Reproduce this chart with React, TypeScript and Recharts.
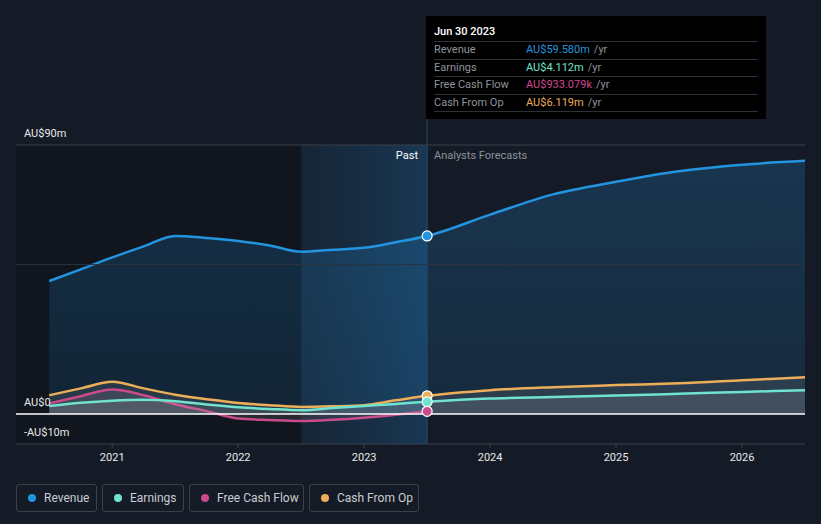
import {
  ComposedChart, Area, XAxis, YAxis, ReferenceLine, ReferenceArea, ReferenceDot,
} from "recharts";

const years = [
  2020.5, 2020.75, 2021.0, 2021.25, 2021.5, 2021.75, 2022.0, 2022.25, 2022.5,
  2022.75, 2023.0, 2023.25, 2023.5, 2024.0, 2024.5, 2025.0, 2025.5, 2026.0, 2026.5,
];
const revenue = [
  44.5, 48.4, 52.4, 56.1, 59.6, 58.9, 57.9, 56.4, 54.3,
  55.0, 55.6, 57.5, 59.58, 66.7, 73.5, 77.7, 81.2, 83.4, 84.7,
];
const earnings = [
  2.7, 3.8, 4.5, 4.8, 4.3, 3.2, 2.3, 1.7, 1.3,
  2.0, 2.7, 3.4, 4.112, 5.2, 5.7, 6.2, 6.8, 7.4, 8.0,
];
const freeCashFlow = [
  3.6, 6.0, 8.2, 6.3, 3.3, 1.0, -1.5, -2.0, -2.3,
  -1.9, -1.2, -0.2, 0.933, null, null, null, null, null, null,
];
const cashFromOp = [
  6.3, 8.6, 10.8, 8.6, 6.5, 5.0, 3.7, 3.0, 2.4,
  2.6, 3.0, 4.6, 6.119, 8.0, 9.0, 9.7, 10.3, 11.3, 12.3,
];
const xTicks = [2021, 2022, 2023, 2024, 2025, 2026];
const yLabelTicks = [-10, 0, 90];

const pastEnd = 2023.5;
const tooltipRows = [
  { name: "Revenue", value: "AU$59.580m", color: "#2394DF" },
  { name: "Earnings", value: "AU$4.112m", color: "#6FE3CF" },
  { name: "Free Cash Flow", value: "AU$933.079k", color: "#D04A8E" },
  { name: "Cash From Op", value: "AU$6.119m", color: "#EDAE5A" },
];

const series = [
  { key: "revenue", name: "Revenue", color: "#2394DF", width: 81 },
  { key: "earnings", name: "Earnings", color: "#6FE3CF", width: 82 },
  { key: "fcf", name: "Free Cash Flow", color: "#C94B8C", width: 115 },
  { key: "cfo", name: "Cash From Op", color: "#EDAE5A", width: 110 },
];

const data = years.map((t, i) => ({
  t,
  revenue: revenue[i],
  earnings: earnings[i],
  fcf: freeCashFlow[i],
  cfo: cashFromOp[i],
}));

const font = "Roboto, 'Noto Sans', sans-serif";

const fmtY = (v: number) => (v === 0 ? "AU$0" : v < 0 ? `-AU$${-v}m` : `AU$${v}m`);

const YTick = (props: any) => (
  <text x={24} y={props.y - 8} fill="#e8e8e8" fontSize={11} fontFamily={font}>
    {fmtY(props.payload.value)}
  </text>
);

export default function App() {
  return (
    <div style={{ position: "fixed", left: 0, top: 0, width: 821, height: 524, background: "#151b26", fontFamily: font, overflow: "hidden" }}>
      <ComposedChart width={821} height={480} data={data} margin={{ top: 145, right: 16, bottom: 6, left: 0 }}>
        <defs>
          <linearGradient id="pastBand" x1="0" y1="0" x2="1" y2="0">
            <stop offset="0%" stopColor="#1b4466" stopOpacity={0.25} />
            <stop offset="100%" stopColor="#1b4f7a" stopOpacity={0.55} />
          </linearGradient>
          <linearGradient id="revFill" x1="0" y1="0" x2="0" y2="1">
            <stop offset="0%" stopColor="#2394DF" stopOpacity={0.22} />
            <stop offset="100%" stopColor="#2394DF" stopOpacity={0.12} />
          </linearGradient>
        </defs>
        <XAxis
          dataKey="t"
          type="number"
          domain={[2020.236, 2026.5]}
          ticks={xTicks}
          allowDataOverflow
          height={30}
          stroke="#3b414c"
          tickSize={4}
          tick={{ fill: "#e8e8e8", fontSize: 11, fontFamily: font, dy: 3 }}
          tickFormatter={(v) => String(v)}
        />
        <YAxis
          type="number"
          domain={[-10, 90]}
          ticks={yLabelTicks}
          width={16}
          axisLine={false}
          tickLine={false}
          tick={<YTick />}
        />
        <ReferenceArea x1={2020.236} x2={2022.5} y1={-10} y2={90} fill="#0c1016" fillOpacity={0.45} stroke="none" />
        <ReferenceArea x1={2022.5} x2={pastEnd} y1={-10} y2={90} fill="url(#pastBand)" fillOpacity={1} stroke="none" />
        <ReferenceLine y={90} stroke="#3b414c" />
        <ReferenceLine y={50} stroke="#2c333e" />
        <ReferenceLine
          segment={[{ x: pastEnd, y: -10 }, { x: pastEnd, y: 133 }]}
          ifOverflow="visible"
          stroke="#1f4a6b"
        />
        <Area type="monotone" dataKey="revenue" stroke="#2394DF" strokeWidth={2.5} fill="url(#revFill)" fillOpacity={1} isAnimationActive={false} dot={false} activeDot={false} />
        <Area type="monotone" dataKey="cfo" stroke="#EDAE5A" strokeWidth={2.5} fill="#c8c8c8" fillOpacity={0.12} isAnimationActive={false} dot={false} activeDot={false} />
        <Area type="monotone" dataKey="fcf" stroke="#C94B8C" strokeWidth={2.5} fill="#c8a0b4" fillOpacity={0.14} isAnimationActive={false} dot={false} activeDot={false} connectNulls={false} />
        <Area type="monotone" dataKey="earnings" stroke="#6FE3CF" strokeWidth={2.5} fill="#c8c8c8" fillOpacity={0.14} isAnimationActive={false} dot={false} activeDot={false} />
        <ReferenceLine y={0} stroke="#ffffff" strokeWidth={1.5} />
        <ReferenceDot x={pastEnd} y={revenue[12]} r={5} fill="#2394DF" stroke="#ffffff" strokeWidth={1.2} />
        <ReferenceDot x={pastEnd} y={cashFromOp[12]} r={5} fill="#EDAE5A" stroke="#ffffff" strokeWidth={1.2} />
        <ReferenceDot x={pastEnd} y={earnings[12]} r={5} fill="#6FE3CF" stroke="#ffffff" strokeWidth={1.2} />
        <ReferenceDot x={pastEnd} y={freeCashFlow[12] as number} r={5} fill="#C94B8C" stroke="#ffffff" strokeWidth={1.2} />
      </ComposedChart>

      <div style={{ position: "absolute", left: 390, top: 149, width: 28, textAlign: "right", color: "#ffffff", fontSize: 11 }}>Past</div>
      <div style={{ position: "absolute", left: 434, top: 149, color: "#8c9199", fontSize: 11 }}>Analysts Forecasts</div>

      <div style={{ position: "absolute", left: 426, top: 16, width: 340, height: 103, background: "#000000", boxSizing: "border-box", padding: "0 8px" }}>
        <div style={{ color: "#ffffff", fontSize: 11, fontWeight: 500, height: 25, lineHeight: "31px" }}>Jun 30 2023</div>
        {tooltipRows.map((r) => (
          <div key={r.name} style={{ borderTop: "1px solid #2e3138", height: 16.5, lineHeight: "16.5px", fontSize: 11, display: "flex" }}>
            <span style={{ color: "#8f949c", width: 92 }}>{r.name}</span>
            <span style={{ color: r.color }}>{r.value}</span>
            <span style={{ color: "#8f949c", marginLeft: 4 }}>/yr</span>
          </div>
        ))}
        <div style={{ borderTop: "1px solid #2e3138" }} />
      </div>

      <div style={{ position: "absolute", left: 16, top: 484, display: "flex", gap: 5 }}>
        {series.map((s) => (
          <div key={s.key} style={{ width: s.width, height: 28, boxSizing: "border-box", border: "1px solid #3a3f49", borderRadius: 3, display: "flex", alignItems: "center", paddingLeft: 11, fontSize: 12, color: "#c9ccd2" }}>
            <span style={{ width: 8, height: 8, borderRadius: 4, background: s.color, display: "inline-block", marginRight: 8 }} />
            {s.name}
          </div>
        ))}
      </div>
    </div>
  );
}
